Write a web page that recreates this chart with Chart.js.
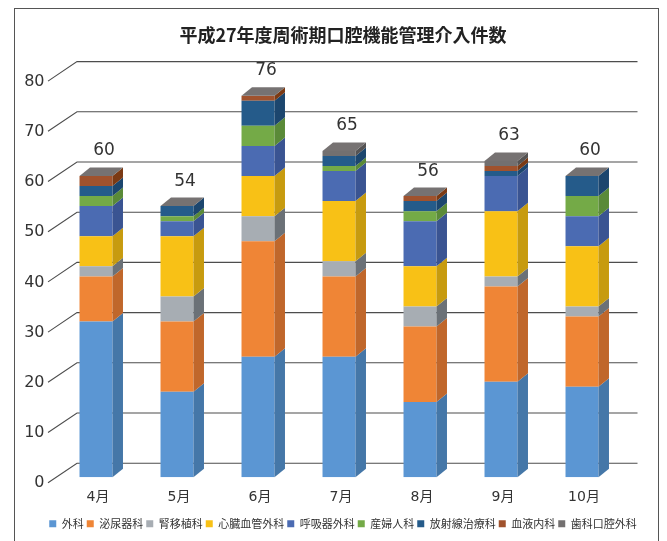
<!DOCTYPE html>
<html><head><meta charset="utf-8">
<script src="https://cdn.jsdelivr.net/npm/chart.js@4.4.1/dist/chart.umd.min.js"></script>
<style>html,body{margin:0;padding:0;background:#fff;}#wrap{width:667px;height:541px;position:relative;overflow:hidden}</style>
</head><body><div id="wrap"><canvas id="c" width="667" height="541"></canvas></div>
<script>
const titleText = '平成27年度周術期口腔機能管理介入件数';
const months = ['4月','5月','6月','7月','8月','9月','10月'];
const seriesNames = ['外科','泌尿器科','腎移植科','心臓血管外科','呼吸器外科','産婦人科','放射線治療科','血液内科','歯科口腔外科'];
const geka      = [31,17,24,24,15,19,18];
const hinyoki   = [9,14,23,16,15,19,14];
const jinishoku = [2,5,5,3,4,2,2];
const shinzo    = [6,12,8,12,8,13,12];
const kokyuki   = [6,3,6,6,9,7,6];
const sanfujin  = [2,1,4,1,2,0,4];
const hoshasen  = [2,2,5,2,2,1,4];
const ketsueki  = [2,0,1,0,1,1,0];
const shika     = [0,0,0,1,0,1,0];
const yTicks = [0,10,20,30,40,50,60,70,80];

const seriesValues = [geka,hinyoki,jinishoku,shinzo,kokyuki,sanfujin,hoshasen,ketsueki,shika];
const frontColors = ['#5b96d3','#ef8536','#a7adb3','#f8c116','#4b6bb2','#74aa47','#255b8a','#a0522d','#737070'];
const sideColors  = ['#4577a8','#c0672b','#6b7177','#c79b0f','#3a5492','#5a8a38','#1c466e','#7b3a14','#555353'];
const topColor = '#767272';
const FONT = "'Noto Sans CJK JP', 'Noto Sans', sans-serif";
const NUMFONT = "'DejaVu Sans', 'Noto Sans CJK JP', sans-serif";
const DX = 10.5, DY = 8.5;

const datasets = seriesNames.map((n,i)=>({
  label:n, data:seriesValues[i], backgroundColor:frontColors[i], borderWidth:0,
  barPercentage:0.407, categoryPercentage:1.0, stack:'s'
}));

const framePlugin = {
  id:'frame',
  beforeDraw(chart){
    const ctx = chart.ctx;
    ctx.save();
    ctx.fillStyle = '#fff';
    ctx.fillRect(0,0,chart.width,chart.height);
    ctx.strokeStyle = '#555';
    ctx.lineWidth = 1;
    ctx.strokeRect(14.5, 8.5, 644, 600);
    ctx.restore();
  }
};

const wallPlugin = {
  id:'wall',
  beforeDatasetsDraw(chart){
    const ctx = chart.ctx, y = chart.scales.y, ca = chart.chartArea;
    ctx.save();
    ctx.strokeStyle = '#4d4d4d';
    ctx.lineWidth = 1.1;
    yTicks.forEach(v=>{
      const yp = y.getPixelForValue(v);
      ctx.beginPath();
      ctx.moveTo(ca.left - 7.5, yp + 5.5);
      ctx.lineTo(ca.left + 21.5, yp - 14);
      ctx.lineTo(ca.right + 15, yp - 14);
      ctx.stroke();
    });
    ctx.restore();
  }
};

const bars3dPlugin = {
  id:'bars3d',
  afterDatasetsDraw(chart){
    const ctx = chart.ctx;
    ctx.save();
    const n = months.length;
    const tops = new Array(n).fill(null);
    chart.data.datasets.forEach((ds,di)=>{
      const meta = chart.getDatasetMeta(di);
      meta.data.forEach((el,i)=>{
        const p = el.getProps(['x','y','base','width'], true);
        if (!ds.data[i]) return;
        const R = p.x + p.width/2;
        ctx.fillStyle = sideColors[di];
        ctx.beginPath();
        ctx.moveTo(R, p.y);
        ctx.lineTo(R+DX, p.y-DY);
        ctx.lineTo(R+DX, p.base-DY);
        ctx.lineTo(R, p.base);
        ctx.closePath();
        ctx.fill();
        tops[i] = p;
      });
    });
    const yS = chart.scales.y;
    tops.forEach((p,i)=>{
      if(!p) return;
      const L = p.x - p.width/2, R = p.x + p.width/2;
      ctx.fillStyle = topColor;
      ctx.beginPath();
      ctx.moveTo(L, p.y);
      ctx.lineTo(L+DX, p.y-DY);
      ctx.lineTo(R+DX, p.y-DY);
      ctx.lineTo(R, p.y);
      ctx.closePath();
      ctx.fill();
      let total = 0;
      seriesValues.forEach(s=> total += s[i]);
      const yt = yS.getPixelForValue(total);
      ctx.fillStyle = '#333';
      ctx.font = '17px ' + NUMFONT;
      ctx.textAlign = 'center';
      ctx.textBaseline = 'middle';
      ctx.fillText(String(total), p.x + 8, yt - 25);
    });
    ctx.restore();
  }
};

new Chart(document.getElementById('c'), {
  type:'bar',
  data:{labels:months, datasets},
  plugins:[framePlugin, wallPlugin, bars3dPlugin],
  options:{
    responsive:false, animation:false, devicePixelRatio:1,
    layout:{padding:{left:19, right:0, top:0, bottom:1.8}},
    plugins:{
      title:{display:true, text:titleText, color:'#222', font:{family:FONT, size:18, weight:'bold', lineHeight:1.2}, padding:{top:24, bottom:30}},
      legend:{position:'bottom', labels:{boxWidth:7, boxHeight:7, padding:3, color:'#333', font:{family:FONT, size:11}}},
      tooltip:{enabled:false}
    },
    scales:{
      x:{stacked:true, grid:{display:false, drawTicks:false}, border:{display:false},
         ticks:{color:'#333', font:{family:NUMFONT, size:14}, padding:12, labelOffset:2},
         afterFit(s){ s.height = 38; }},
      y:{stacked:true, min:0, max:80, grid:{display:false, drawTicks:false}, border:{display:false},
         ticks:{stepSize:10, color:'#333', font:{family:NUMFONT, size:16}, padding:11, labelOffset:6},
         afterFit(s){ s.width = 36.5; }},
      y2:{position:'right', display:true, grid:{display:false, drawTicks:false}, border:{display:false},
         ticks:{display:false}, afterFit(s){ s.width = 44.5; }}
    }
  }
});
</script></body></html>
